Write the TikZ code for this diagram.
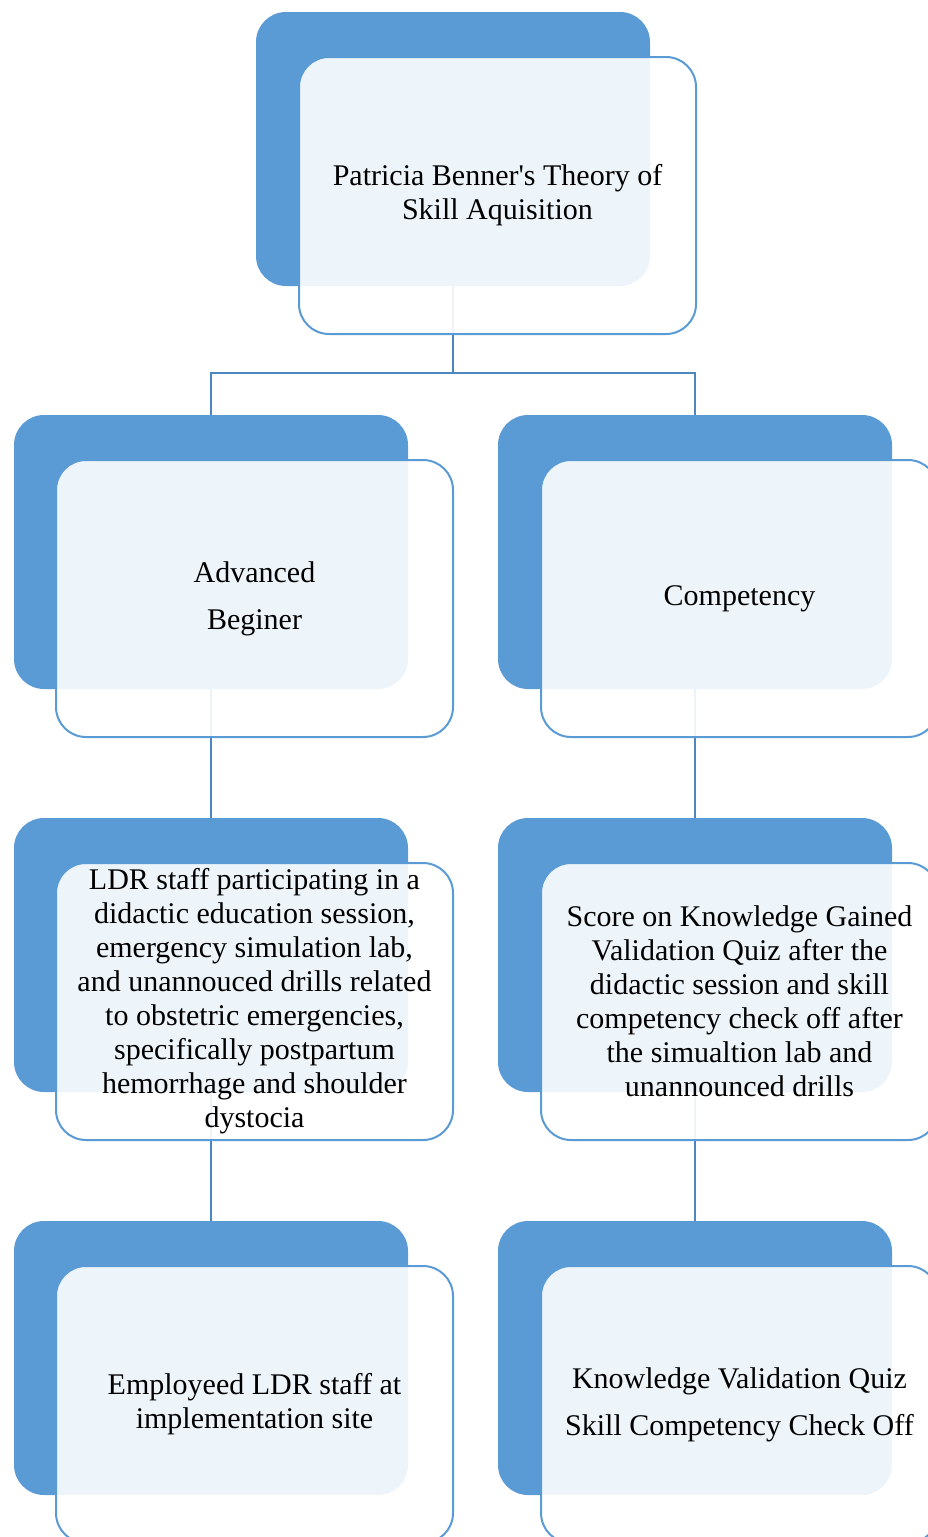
\documentclass[tikz,border=0pt]{standalone}
\usepackage{fontspec}
\setmainfont{Liberation Serif}[Ligatures=TeXOff]
\definecolor{accent}{HTML}{5B9BD5}
\definecolor{linec}{HTML}{4E86C0}
\pgfdeclarelayer{bg}
\pgfsetlayers{bg,main}
\begin{document}
\begin{tikzpicture}[x=1pt,y=-1pt,
  backbox/.style={draw=none, fill=accent, rounded corners=30pt, minimum width=394pt, minimum height=274pt, inner sep=0pt, outer sep=0pt, anchor=north west},
  frontbox/.style={draw=accent, line width=2pt, fill=white, fill opacity=0.9, text opacity=1, rounded corners=30pt, minimum width=397pt, minimum height=277pt, inner sep=0pt, outer sep=0pt, anchor=north west, align=center, text=black, font=\fontsize{30}{34}\selectfont},
  link/.style={draw=linec, line width=2.2pt}]
\path[use as bounding box, clip] (0,0) rectangle (928,1537);
% blue back boxes
\node[backbox] (b1) at (256,12) {};
\node[backbox] (b2) at (14,415) {};
\node[backbox] (b3) at (498,415) {};
\node[backbox] (b4) at (14,818) {};
\node[backbox] (b5) at (498,818) {};
\node[backbox] (b6) at (14,1221) {};
\node[backbox] (b7) at (498,1221) {};
% front text boxes
\node[frontbox] (w1) at (299,57) {Patricia Benner's Theory of\\Skill Aquisition};
\node[frontbox] (w2) at (56,460) {Advanced\\[13pt]Beginer};
\node[frontbox] (w3) at (541,460) {Competency};
\node[frontbox] (w4) at (56,863) {LDR staff participating in a\\didactic education session,\\emergency simulation lab,\\and unannouced drills related\\to obstetric emergencies,\\specifically postpartum\\hemorrhage and shoulder\\dystocia};
\node[frontbox] (w5) at (541,863) {Score on Knowledge Gained\\Validation Quiz after the\\didactic session and skill\\competency check off after\\the simualtion lab and\\unannounced drills};
\node[frontbox] (w6) at (56,1266) {Employeed LDR staff at\\implementation site};
\node[frontbox] (w7) at (541,1266) {Knowledge Validation Quiz\\[13pt]Skill Competency Check Off};
% connectors
\begin{pgfonlayer}{bg}
\coordinate (j) at (453,373);
\draw[link] (b1.south) -- (j);
\draw[link] (j) -| (b2.north);
\draw[link] (j) -| (b3.north);
\draw[link] (b2.south) -- (b4.north);
\draw[link] (b3.south) -- (b5.north);
\draw[link] (b4.south) -- (b6.north);
\draw[link] (b5.south) -- (b7.north);
\end{pgfonlayer}
\end{tikzpicture}
\end{document}
